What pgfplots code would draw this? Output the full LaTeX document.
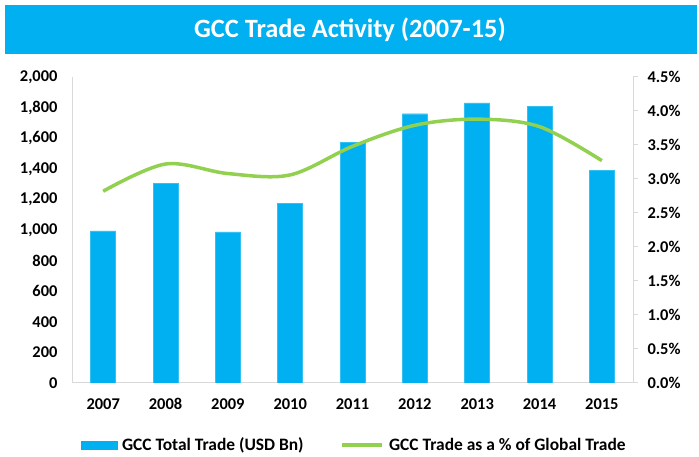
\documentclass[border=0pt]{standalone}
\usepackage{pgfplots}
\pgfplotsset{compat=1.18}
\usepackage{fontspec}
\setmainfont{Carlito}
\definecolor{barblue}{HTML}{00B0F0}
\definecolor{linegreen}{HTML}{92D050}
\definecolor{axgray}{HTML}{D9D9D9}
\begin{document}
\begin{tikzpicture}[x=1bp,y=1bp]
\path (0,0) rectangle (699,457);
\fill[barblue] (5,402.5) rectangle (697,452);
\node[text=white,font=\fontsize{26.5}{30}\selectfont\bfseries] at (350,427) {GCC Trade Activity (2007-15)};
\begin{axis}[
  at={(72bp,74bp)}, anchor=south west,
  scale only axis, width=561bp, height=306bp,
  xmin=-0.5, xmax=8.5, ymin=0, ymax=2000,
  xtick={0,...,8},
  xticklabels={2007,2008,2009,2010,2011,2012,2013,2014,2015},
  ytick={0,200,...,2000},
  axis y line*=left, axis x line*=bottom,
  axis line style={axgray, line width=1bp},
  major tick length=0pt,
  tick style={draw=none},
  /pgf/number format/assume math mode=true,
  /pgf/number format/1000 sep={,},
  ticklabel style={font=\fontsize{16.5}{19}\selectfont\bfseries},
  xticklabel style={yshift=-12bp},
  yticklabel style={xshift=-11bp},
  ybar, bar width=25bp,
]
\addplot[fill=barblue, draw=barblue!80!white] coordinates {
(0,995) (1,1305) (2,988) (3,1172) (4,1575) (5,1760) (6,1830) (7,1806) (8,1392)};
\end{axis}
\begin{axis}[
  at={(72bp,74bp)}, anchor=south west,
  scale only axis, width=561bp, height=306bp,
  xmin=-0.5, xmax=8.5, ymin=0, ymax=4.5,
  ytick={0,0.5,...,4.5},
  axis y line*=right, axis x line=none,
  axis line style={axgray, line width=1bp},
  y tick style={axgray, line width=1bp},
  major tick length=5bp, tick align=outside,
  /pgf/number format/assume math mode=true,
  yticklabel={\pgfmathprintnumber[fixed,fixed zerofill,precision=1]{\tick}\%},
  ticklabel style={font=\fontsize{16.5}{19}\selectfont\bfseries},
  yticklabel style={xshift=6bp},
  legend style={at={(0.503,-0.203)}, anchor=center, draw=none,
    font=\fontsize{17.5}{20}\selectfont\bfseries,
    legend columns=2,
    /tikz/every odd column/.append style={column sep=3bp},
    /tikz/every even column/.append style={column sep=35bp},
    inner sep=0pt},
]
\addlegendimage{legend image code/.code={\fill[barblue] (0bp,-4bp) rectangle (36bp,4bp);}}
\addlegendentry{GCC Total Trade (USD Bn)}
\addplot[linegreen, line width=3.5bp, smooth, tension=0.55,
  legend image code/.code={\draw[linegreen, line width=3.5bp] (0bp,0bp) -- (40bp,0bp);}] coordinates {
(0,2.82) (1,3.22) (2,3.08) (3,3.06) (4,3.48) (5,3.79) (6,3.88) (7,3.77) (8,3.27)};
\addlegendentry{GCC Trade as a \% of Global Trade}
\end{axis}
\end{tikzpicture}
\end{document}
